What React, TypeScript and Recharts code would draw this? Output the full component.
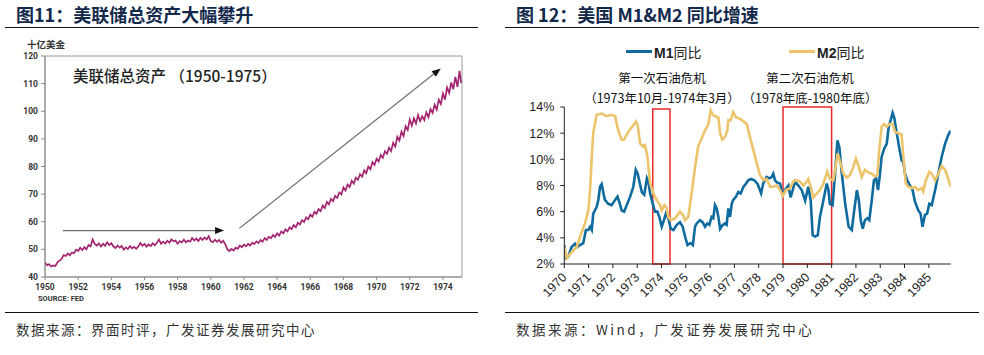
import React from 'react';
import { LineChart, Line, XAxis, YAxis, ReferenceLine, ReferenceArea } from 'recharts';

// ---------- Left chart: Fed total assets (billion USD), 1950-1975 ----------
const fedAssets: [number, number][] = [
  [1950.0, 45.2], [1950.125, 44.3], [1950.25, 44.6], [1950.375, 43.8], [1950.5, 44.2], [1950.625, 44.0], [1950.75, 45.3], [1950.875, 45.9],
  [1951.0, 46.5], [1951.125, 47.9], [1951.25, 47.6], [1951.375, 48.5], [1951.5, 47.9], [1951.625, 48.9], [1951.75, 48.6], [1951.875, 49.9],
  [1952.0, 49.4], [1952.125, 50.6], [1952.25, 49.7], [1952.375, 50.8], [1952.5, 50.0], [1952.625, 51.6], [1952.75, 51.1], [1952.875, 53.6],
  [1953.0, 52.0], [1953.125, 51.4], [1953.25, 52.2], [1953.375, 51.0], [1953.5, 52.0], [1953.625, 51.3], [1953.75, 52.6], [1953.875, 51.6],
  [1954.0, 52.2], [1954.125, 51.1], [1954.25, 50.5], [1954.375, 51.4], [1954.5, 50.6], [1954.625, 51.2], [1954.75, 49.9], [1954.875, 50.7],
  [1955.0, 50.1], [1955.125, 51.2], [1955.25, 50.4], [1955.375, 50.9], [1955.5, 50.2], [1955.625, 51.0], [1955.75, 52.3], [1955.875, 51.3],
  [1956.0, 52.0], [1956.125, 51.0], [1956.25, 51.8], [1956.375, 51.2], [1956.5, 52.2], [1956.625, 51.5], [1956.75, 52.4], [1956.875, 53.6],
  [1957.0, 52.0], [1957.125, 52.8], [1957.25, 52.1], [1957.375, 53.1], [1957.5, 52.4], [1957.625, 53.6], [1957.75, 52.9], [1957.875, 53.2],
  [1958.0, 52.0], [1958.125, 53.0], [1958.25, 52.5], [1958.375, 53.5], [1958.5, 52.6], [1958.625, 53.2], [1958.75, 52.8], [1958.875, 54.1],
  [1959.0, 53.2], [1959.125, 53.9], [1959.25, 53.0], [1959.375, 54.2], [1959.5, 53.4], [1959.625, 54.3], [1959.75, 53.6], [1959.875, 54.8],
  [1960.0, 53.0], [1960.125, 52.6], [1960.25, 53.5], [1960.375, 52.7], [1960.5, 53.4], [1960.625, 52.4], [1960.75, 53.1], [1960.875, 51.8],
  [1961.0, 50.0], [1961.125, 49.4], [1961.25, 50.2], [1961.375, 49.6], [1961.5, 50.6], [1961.625, 50.2], [1961.75, 51.4], [1961.875, 50.8],
  [1962.0, 51.8], [1962.125, 51.1], [1962.25, 52.0], [1962.375, 51.4], [1962.5, 52.4], [1962.625, 51.9], [1962.75, 52.9], [1962.875, 52.3],
  [1963.0, 53.4], [1963.125, 52.8], [1963.25, 54.1], [1963.375, 53.4], [1963.5, 54.6], [1963.625, 54.0], [1963.75, 55.2], [1963.875, 54.5],
  [1964.0, 55.8], [1964.125, 55.0], [1964.25, 56.5], [1964.375, 55.8], [1964.5, 57.2], [1964.625, 56.5], [1964.75, 58.0], [1964.875, 57.3],
  [1965.0, 58.8], [1965.125, 58.0], [1965.25, 59.6], [1965.375, 59.0], [1965.5, 60.6], [1965.625, 59.9], [1965.75, 61.6], [1965.875, 60.9],
  [1966.0, 62.6], [1966.125, 61.8], [1966.25, 63.6], [1966.375, 62.9], [1966.5, 64.6], [1966.625, 63.8], [1966.75, 65.9], [1966.875, 65.0],
  [1967.0, 67.2], [1967.125, 66.3], [1967.25, 68.3], [1967.375, 67.4], [1967.5, 69.4], [1967.625, 68.6], [1967.75, 70.6], [1967.875, 69.9],
  [1968.0, 72.4], [1968.125, 71.3], [1968.25, 73.5], [1968.375, 72.6], [1968.5, 74.8], [1968.625, 73.8], [1968.75, 76.0], [1968.875, 75.2],
  [1969.0, 77.2], [1969.125, 76.3], [1969.25, 78.6], [1969.375, 77.6], [1969.5, 80.0], [1969.625, 79.0], [1969.75, 81.6], [1969.875, 80.6],
  [1970.0, 82.8], [1970.125, 81.8], [1970.25, 84.2], [1970.375, 83.1], [1970.5, 85.5], [1970.625, 84.6], [1970.75, 86.8], [1970.875, 85.6],
  [1971.0, 88.6], [1971.125, 87.2], [1971.25, 90.8], [1971.375, 89.4], [1971.5, 92.6], [1971.625, 91.0], [1971.75, 94.6], [1971.875, 93.2],
  [1972.0, 97.0], [1972.125, 94.8], [1972.25, 97.5], [1972.375, 95.6], [1972.5, 98.6], [1972.625, 96.4], [1972.75, 98.2], [1972.875, 96.8],
  [1973.0, 99.6], [1973.125, 97.8], [1973.25, 100.8], [1973.375, 99.4], [1973.5, 102.4], [1973.625, 100.6], [1973.75, 104.2], [1973.875, 102.6],
  [1974.0, 106.4], [1974.125, 104.2], [1974.25, 108.6], [1974.375, 106.6], [1974.5, 110.4], [1974.625, 108.0], [1974.75, 112.4], [1974.875, 108.8],
  [1975.0, 114.6], [1975.1, 110.2],
];
const fedXTicks = [1950, 1952, 1954, 1956, 1958, 1960, 1962, 1964, 1966, 1968, 1970, 1972, 1974];
const fedYTicks = [40, 50, 60, 70, 80, 90, 100, 110, 120];
const flatArrow = [{ x: 1951.07, y: 56.8 }, { x: 1960.8, y: 56.8 }];
const riseArrow = [{ x: 1961.72, y: 57.6 }, { x: 1973.87, y: 115.5 }];

// ---------- Right chart: US M1 & M2 YoY (%) ----------
const m1Points: [number, number][] = [
  [1970.0, 3.45], [1970.05, 2.45], [1970.16, 2.55], [1970.3, 3.3], [1970.44, 3.55], [1970.53, 3.3], [1970.64, 3.45], [1970.78, 3.6],
  [1970.89, 4.6], [1970.99, 4.6], [1971.06, 4.85], [1971.13, 4.6], [1971.19, 5.85], [1971.26, 6.1], [1971.33, 6.35], [1971.4, 6.9],
  [1971.47, 7.9], [1971.54, 8.1], [1971.61, 7.4], [1971.67, 6.9], [1971.81, 6.6], [1971.95, 6.5], [1972.09, 6.9], [1972.19, 7.15],
  [1972.27, 6.7], [1972.36, 6.1], [1972.46, 6.0], [1972.57, 6.5], [1972.71, 7.15], [1972.84, 7.9], [1972.94, 9.2], [1973.02, 8.9],
  [1973.09, 8.3], [1973.19, 7.5], [1973.29, 7.3], [1973.4, 8.55], [1973.46, 8.3], [1973.53, 7.4], [1973.64, 6.6], [1973.73, 6.0],
  [1973.83, 6.0], [1973.91, 5.6], [1974.01, 4.85], [1974.1, 5.35], [1974.18, 5.85], [1974.28, 5.5], [1974.38, 4.7], [1974.49, 4.6],
  [1974.63, 5.0], [1974.76, 5.2], [1974.87, 4.85], [1974.97, 4.1], [1975.07, 3.45], [1975.18, 3.6], [1975.29, 3.45], [1975.38, 4.85],
  [1975.45, 5.1], [1975.58, 5.35], [1975.69, 5.2], [1975.79, 4.85], [1975.88, 5.1], [1975.97, 5.0], [1976.06, 5.6], [1976.13, 5.5],
  [1976.2, 6.5], [1976.27, 6.25], [1976.34, 5.6], [1976.41, 4.7], [1976.5, 4.95], [1976.61, 5.1], [1976.68, 5.0], [1976.75, 6.25],
  [1976.82, 5.6], [1976.89, 6.6], [1976.95, 6.9], [1977.07, 7.15], [1977.16, 7.5], [1977.26, 7.4], [1977.37, 7.9], [1977.48, 8.15],
  [1977.57, 8.4], [1977.69, 8.5], [1977.82, 8.4], [1977.96, 8.1], [1978.1, 7.4], [1978.19, 8.2], [1978.33, 8.65], [1978.44, 8.55],
  [1978.53, 8.65], [1978.6, 8.9], [1978.67, 8.4], [1978.77, 8.2], [1978.88, 8.15], [1978.99, 7.25], [1979.08, 7.65], [1979.22, 8.0],
  [1979.31, 7.1], [1979.4, 7.65], [1979.49, 8.3], [1979.63, 8.0], [1979.77, 7.65], [1979.91, 6.85], [1980.04, 7.9], [1980.14, 6.85],
  [1980.22, 4.2], [1980.32, 4.1], [1980.43, 4.2], [1980.52, 5.6], [1980.66, 6.85], [1980.8, 8.15], [1980.87, 7.65], [1980.93, 6.6],
  [1981.04, 6.5], [1981.14, 8.9], [1981.24, 11.45], [1981.32, 10.9], [1981.42, 8.9], [1981.56, 6.6], [1981.7, 4.85], [1981.83, 4.6],
  [1981.93, 6.1], [1982.04, 7.65], [1982.12, 6.85], [1982.2, 5.35], [1982.28, 4.7], [1982.37, 5.35], [1982.47, 5.5], [1982.55, 5.35],
  [1982.65, 6.85], [1982.74, 8.4], [1982.83, 8.55], [1982.91, 7.65], [1982.99, 8.9], [1983.06, 10.2], [1983.16, 10.8], [1983.27, 11.2],
  [1983.35, 12.5], [1983.43, 13.0], [1983.51, 13.55], [1983.58, 13.15], [1983.68, 12.0], [1983.79, 10.8], [1983.88, 9.9], [1983.95, 9.8],
  [1984.02, 8.9], [1984.11, 8.4], [1984.22, 8.0], [1984.33, 7.65], [1984.43, 6.75], [1984.57, 6.1], [1984.66, 5.85], [1984.74, 4.85],
  [1984.84, 5.75], [1984.93, 5.85], [1985.02, 6.6], [1985.12, 6.5], [1985.26, 7.65], [1985.39, 8.9], [1985.53, 10.2], [1985.67, 11.2],
  [1985.8, 11.85], [1985.9, 12.2],
];
const m2Points: [number, number][] = [
  [1970.0, 3.3], [1970.1, 2.45], [1970.3, 2.9], [1970.51, 3.3], [1970.65, 4.1], [1970.85, 5.1], [1970.99, 6.1], [1971.06, 7.6],
  [1971.13, 10.2], [1971.19, 12.0], [1971.33, 13.4], [1971.54, 13.5], [1971.74, 13.3], [1971.95, 13.4], [1972.09, 13.3], [1972.22, 12.2],
  [1972.36, 11.5], [1972.46, 11.5], [1972.63, 12.1], [1972.84, 12.6], [1972.95, 12.9], [1973.02, 12.6], [1973.12, 11.2], [1973.23, 11.0],
  [1973.32, 11.1], [1973.42, 10.2], [1973.53, 8.2], [1973.66, 7.4], [1973.8, 6.9], [1973.94, 6.5], [1974.01, 6.1], [1974.12, 6.5],
  [1974.21, 6.3], [1974.28, 5.6], [1974.38, 5.35], [1974.56, 5.5], [1974.76, 6.0], [1974.9, 5.7], [1974.97, 5.35], [1975.1, 5.6],
  [1975.24, 7.4], [1975.38, 9.4], [1975.51, 11.0], [1975.65, 11.6], [1975.79, 12.2], [1975.93, 12.7], [1976.02, 13.75], [1976.11, 13.4],
  [1976.2, 13.3], [1976.34, 13.2], [1976.41, 12.0], [1976.5, 11.5], [1976.61, 11.7], [1976.71, 12.2], [1976.75, 13.0], [1976.85, 13.0],
  [1976.95, 13.6], [1977.07, 13.2], [1977.23, 13.1], [1977.37, 12.9], [1977.51, 12.7], [1977.64, 11.7], [1977.78, 10.7], [1977.92, 9.7],
  [1978.05, 8.8], [1978.19, 8.4], [1978.33, 8.5], [1978.47, 7.9], [1978.6, 7.9], [1978.74, 8.0], [1978.88, 7.65], [1978.99, 7.2],
  [1979.12, 7.65], [1979.29, 7.8], [1979.42, 8.3], [1979.56, 8.4], [1979.7, 8.3], [1979.84, 8.0], [1979.98, 8.3], [1980.04, 8.5],
  [1980.14, 7.9], [1980.25, 7.1], [1980.39, 7.4], [1980.52, 7.65], [1980.66, 8.15], [1980.82, 9.05], [1980.93, 8.5], [1981.07, 8.4],
  [1981.25, 10.45], [1981.35, 9.8], [1981.48, 8.9], [1981.62, 8.6], [1981.76, 8.8], [1981.89, 9.4], [1982.0, 10.05], [1982.12, 9.4],
  [1982.24, 8.65], [1982.37, 9.2], [1982.51, 9.0], [1982.65, 8.9], [1982.79, 8.7], [1982.88, 8.8], [1982.96, 10.7], [1983.06, 12.5],
  [1983.16, 12.7], [1983.27, 12.5], [1983.38, 12.7], [1983.51, 12.7], [1983.61, 12.1], [1983.75, 12.0], [1983.88, 11.9], [1983.95, 10.2],
  [1984.05, 8.15], [1984.16, 7.9], [1984.3, 7.8], [1984.43, 7.9], [1984.57, 7.65], [1984.71, 7.8], [1984.77, 7.55], [1984.88, 8.4],
  [1985.02, 9.05], [1985.12, 8.9], [1985.26, 8.4], [1985.39, 8.9], [1985.53, 9.5], [1985.67, 9.2], [1985.8, 8.5], [1985.9, 7.9],
];
const moneyXTicks = [1970, 1971, 1972, 1973, 1974, 1975, 1976, 1977, 1978, 1979, 1980, 1981, 1982, 1983, 1984, 1985];
const moneyYTicks = [2, 4, 6, 8, 10, 12, 14];
const crisis1 = { from: 1973.64, to: 1974.35, top: 13.85 };
const crisis2 = { from: 1979.0, to: 1981.0, top: 14.0 };

const fedData = fedAssets.map(([x, v]) => ({ x, v }));
const m1Data = m1Points.map(([x, v]) => ({ x, v }));
const m2Data = m2Points.map(([x, v]) => ({ x, v }));

const CJK = '"Noto Sans CJK SC", "Noto Sans", sans-serif';
const SANS = '"Liberation Sans", Arial, sans-serif';

const ArrowShape = (props: any) => {
  const { x1, y1, x2, y2 } = props;
  if ([x1, y1, x2, y2].some((v) => typeof v !== 'number' || isNaN(v))) return null;
  const ang = Math.atan2(y2 - y1, x2 - x1);
  const L = 9;
  const W = 3.5;
  const bx = x2 - L * Math.cos(ang);
  const by = y2 - L * Math.sin(ang);
  const pts = `${x2},${y2} ${bx - W * Math.sin(ang)},${by + W * Math.cos(ang)} ${bx + W * Math.sin(ang)},${by - W * Math.cos(ang)}`;
  return (
    <g>
      <line x1={x1} y1={y1} x2={bx} y2={by} stroke="#6f6f6f" strokeWidth={1.2} />
      <polygon points={pts} fill="#111" />
    </g>
  );
};

const RotTick = (props: any) => {
  const { x, y, payload } = props;
  const ax = x + 3;
  const ay = y + 8;
  return (
    <text x={ax} y={ay} textAnchor="end" transform={`rotate(-45 ${ax} ${ay})`} fontSize={12.5} fill="#222" fontFamily={SANS}>
      {payload.value}
    </text>
  );
};

const abs = (s: React.CSSProperties): React.CSSProperties => ({ position: 'absolute', whiteSpace: 'nowrap', ...s });

export default function App() {
  return (
    <div style={{ position: 'absolute', left: 0, top: 0, width: 984, height: 355, background: '#fff', overflow: 'hidden', fontFamily: CJK }}>
      {/* Titles */}
      <div style={abs({ left: 16, top: 1, fontSize: 18, fontWeight: 700, color: '#13294b', fontFamily: CJK })}>图11：美联储总资产大幅攀升</div>
      <div style={abs({ left: 516, top: 1, fontSize: 18, fontWeight: 700, color: '#13294b', fontFamily: CJK })}>图 12：美国 M1&amp;M2 同比增速</div>
      <div style={abs({ left: 5, top: 27, width: 473, height: 0, borderTop: '1.5px solid #111' })} />
      <div style={abs({ left: 505, top: 27, width: 474, height: 0, borderTop: '1.5px solid #111' })} />

      {/* Left chart */}
      <div style={abs({ left: 0, top: 0 })}>
        <LineChart width={490} height={310} data={fedData} margin={{ top: 56, right: 28, bottom: 13, left: 25 }}>
          <XAxis
            dataKey="x"
            type="number"
            domain={[1950, 1975.15]}
            ticks={fedXTicks}
            allowDataOverflow
            height={20}
            tickSize={3}
            tickMargin={4}
            axisLine={{ stroke: '#8a8a8a' }}
            tickLine={{ stroke: '#8a8a8a' }}
            tick={{ fontSize: 8.5, fill: '#333', fontWeight: 700, fontFamily: 'Roboto' }}
          />
          <YAxis
            type="number"
            domain={[40, 120]}
            ticks={fedYTicks}
            allowDataOverflow
            width={20}
            tickSize={4}
            tickMargin={3}
            axisLine={{ stroke: '#8a8a8a' }}
            tickLine={{ stroke: '#8a8a8a' }}
            tick={{ fontSize: 8.5, fill: '#333', fontWeight: 700, fontFamily: 'Roboto' }}
          />
          <ReferenceArea x1={1950} x2={1975.15} y1={40} y2={120} fill="none" stroke="#9a9a9a" strokeWidth={1} ifOverflow="visible" />
          <Line dataKey="v" type="linear" stroke="#a3246f" strokeWidth={1.7} dot={false} isAnimationActive={false} />
          <ReferenceLine segment={flatArrow} shape={ArrowShape} ifOverflow="visible" />
          <ReferenceLine segment={riseArrow} shape={ArrowShape} ifOverflow="visible" />
        </LineChart>
      </div>
      <div style={abs({ left: 27, top: 37, fontSize: 9.5, fontWeight: 700, color: '#333' })}>十亿美金</div>
      <div style={abs({ left: 73, top: 64, fontSize: 15.5, fontWeight: 500, color: '#222' })}>美联储总资产 （1950-1975）</div>
      <div style={abs({ left: 38, top: 294, fontSize: 7.5, fontWeight: 700, color: '#333', fontFamily: 'Roboto' })}>SOURCE: FED</div>

      {/* Right chart */}
      <div style={abs({ left: 500, top: 0 })}>
        <LineChart width={484} height={355} margin={{ top: 107, right: 33.3, bottom: 51, left: 14.3 }}>
          <XAxis
            dataKey="x"
            type="number"
            domain={[1970, 1985.9]}
            ticks={moneyXTicks}
            allowDataOverflow
            height={40}
            tickSize={4}
            tickMargin={2}
            axisLine={{ stroke: '#222' }}
            tickLine={{ stroke: '#222' }}
            tick={<RotTick />}
            interval={0}
          />
          <YAxis
            type="number"
            domain={[2, 14]}
            ticks={moneyYTicks}
            allowDataOverflow
            width={50}
            tickSize={4}
            tickMargin={6}
            axisLine={{ stroke: '#222' }}
            tickLine={{ stroke: '#222' }}
            tickFormatter={(v: number) => `${v}%`}
            tick={{ fontSize: 12.5, fill: '#222', fontFamily: SANS }}
          />
          <Line data={m1Data} dataKey="v" type="linear" stroke="#0f6b9e" strokeWidth={2.6} dot={false} isAnimationActive={false} />
          <Line data={m2Data} dataKey="v" type="linear" stroke="#ebc46b" strokeWidth={2.6} dot={false} isAnimationActive={false} />
          <ReferenceArea x1={crisis1.from} x2={crisis1.to} y1={2} y2={crisis1.top} fill="none" stroke="#ea2a2a" strokeWidth={1.5} ifOverflow="visible" />
          <ReferenceArea x1={crisis2.from} x2={crisis2.to} y1={2} y2={crisis2.top} fill="none" stroke="#ea2a2a" strokeWidth={1.5} ifOverflow="visible" />
        </LineChart>
      </div>
      {/* Legend */}
      <div style={abs({ left: 626, top: 50, width: 26, height: 3, background: '#0f6b9e' })} />
      <div style={abs({ left: 654, top: 42, fontSize: 14, color: '#222', lineHeight: '20px' })}>
        <span style={{ fontFamily: SANS, fontWeight: 700 }}>M1</span>同比
      </div>
      <div style={abs({ left: 789, top: 50, width: 26, height: 3, background: '#ebc46b' })} />
      <div style={abs({ left: 817, top: 42, fontSize: 14, color: '#222', lineHeight: '20px' })}>
        <span style={{ fontFamily: SANS, fontWeight: 700 }}>M2</span>同比
      </div>
      {/* Annotations */}
      <div style={abs({ left: 562, width: 200, top: 71, textAlign: 'center', fontSize: 12.5, color: '#111', lineHeight: '14px' })}>第一次石油危机</div>
      <div style={abs({ left: 562, width: 200, top: 91, textAlign: 'center', fontSize: 12.5, color: '#111', lineHeight: '14px' })}>（1973年10月-1974年3月）</div>
      <div style={abs({ left: 710, width: 200, top: 71, textAlign: 'center', fontSize: 12.5, color: '#111', lineHeight: '14px' })}>第二次石油危机</div>
      <div style={abs({ left: 710, width: 200, top: 91, textAlign: 'center', fontSize: 12.5, color: '#111', lineHeight: '14px' })}>（1978年底-1980年底）</div>

      {/* Footers */}
      <div style={abs({ left: 5, top: 312, width: 473, height: 0, borderTop: '1.5px solid #111' })} />
      <div style={abs({ left: 505, top: 312, width: 474, height: 0, borderTop: '1.5px solid #111' })} />
      <div style={abs({ left: 16, top: 319, fontSize: 13.5, color: '#333', letterSpacing: 1.5 })}>数据来源：界面时评，广发证券发展研究中心</div>
      <div style={abs({ left: 516, top: 319, fontSize: 13.5, color: '#333', letterSpacing: 2.5 })}>数据来源：Wind，广发证券发展研究中心</div>
    </div>
  );
}
